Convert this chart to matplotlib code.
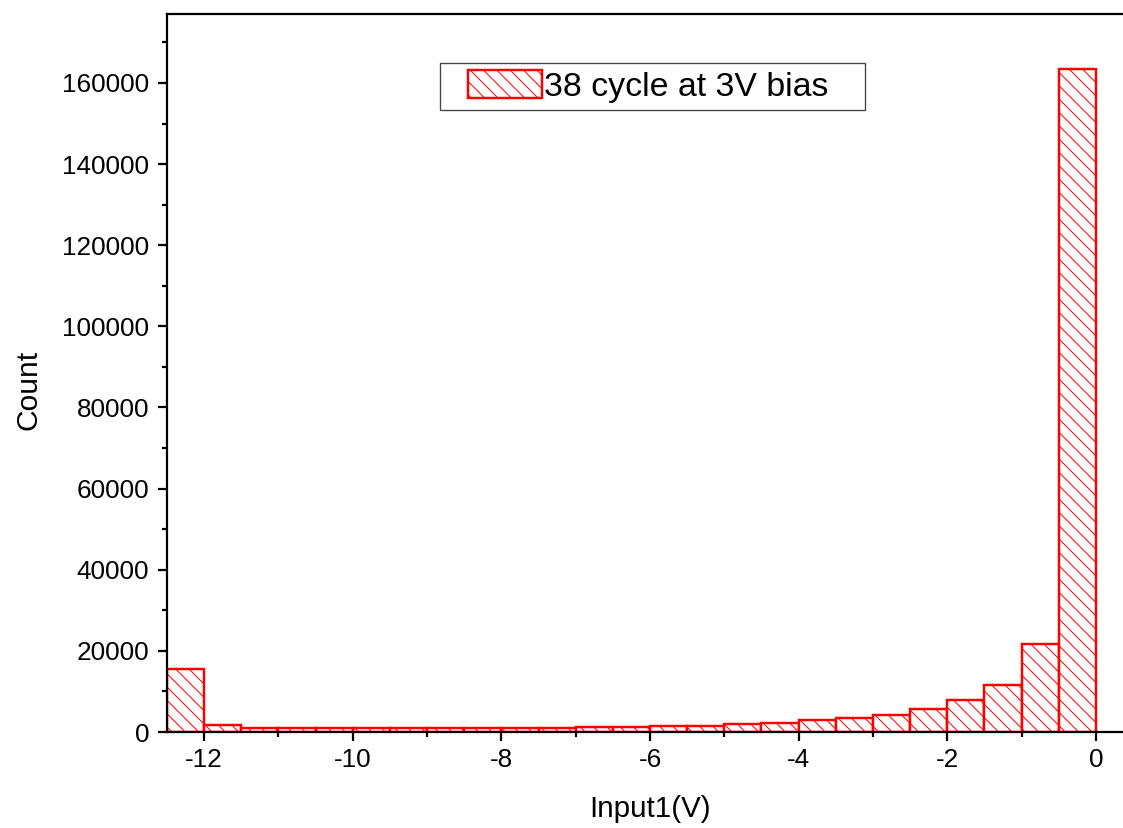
import numpy as np
import matplotlib.pyplot as plt
from matplotlib.ticker import MultipleLocator
from matplotlib.patches import Rectangle

# bin left edges (V) and counts
bin_left = [-12.5, -12.0, -11.5, -11.0, -10.5, -10.0, -9.5, -9.0, -8.5, -8.0,
            -7.5, -7.0, -6.5, -6.0, -5.5, -5.0, -4.5, -4.0, -3.5, -3.0,
            -2.5, -2.0, -1.5, -1.0, -0.5]
counts = [15600, 1700, 1050, 1050, 1050, 1050, 1050, 1050, 1050, 1050,
          1050, 1300, 1300, 1500, 1500, 1900, 2300, 2900, 3500, 4300,
          5600, 7900, 11600, 21700, 163400]
bin_width = 0.5
legend_label = "38 cycle at 3V bias"

DPI = 80
W, H = 1123, 828
plt.rcParams['font.family'] = ['Liberation Sans', 'DejaVu Sans']
plt.rcParams['axes.unicode_minus'] = False
plt.rcParams['hatch.linewidth'] = 0.9
plt.rcParams['hatch.color'] = 'red'

fig = plt.figure(figsize=(W / DPI, H / DPI), dpi=DPI)
ax = fig.add_axes([167 / W, 1 - 732 / H, 966 / W, 718 / H])

ax.bar(bin_left, counts, width=bin_width, align='edge', facecolor='white',
       edgecolor='red', linewidth=2.2, hatch='\\\\', label=legend_label)

ax.set_xlim(-12.5, 0.5)
ax.set_ylim(0, 177000)
ax.xaxis.set_major_locator(MultipleLocator(2))
ax.xaxis.set_minor_locator(MultipleLocator(1))
ax.yaxis.set_major_locator(MultipleLocator(20000))
ax.yaxis.set_minor_locator(MultipleLocator(10000))
ax.tick_params(which='both', direction='out', width=2.0, labelsize=23.5)
ax.tick_params(which='major', length=8)
ax.tick_params(which='minor', length=4.5)
ax.tick_params(axis='y', which='major', pad=8)
ax.tick_params(axis='x', which='major', pad=6)
for s in ax.spines.values():
    s.set_linewidth(2.0)

ax.set_xlabel("Input1(V)", fontsize=26.5, labelpad=21)
ax.set_ylabel("Count", fontsize=27)
ax.yaxis.set_label_coords(-0.129, 0.476)

# legend box drawn separately to get the wide side padding
ax.add_patch(Rectangle((440 / W, 1 - 110 / H), 425 / W, 47 / H,
                       transform=fig.transFigure, facecolor='white',
                       edgecolor='#444444', linewidth=1.2, zorder=4,
                       clip_on=False))
leg = ax.legend(loc='center', bbox_to_anchor=(648 / W, 1 - 86.5 / H),
                bbox_transform=fig.transFigure, fontsize=30.5, frameon=False,
                handlelength=2.2, handleheight=0.9,
                handletextpad=0.05, borderpad=0.25, borderaxespad=0)
leg.set_zorder(5)

fig.savefig("out.png", dpi=DPI)
